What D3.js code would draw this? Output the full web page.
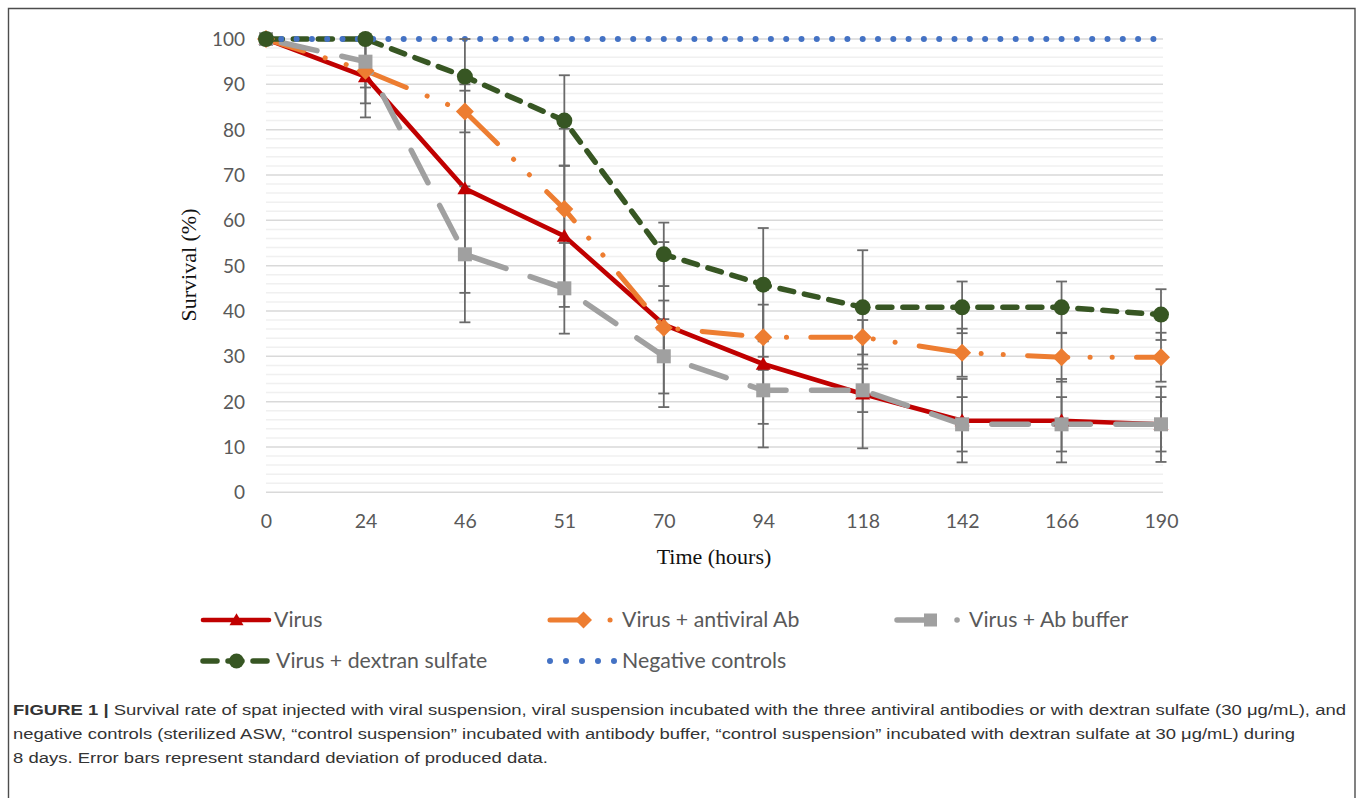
<!DOCTYPE html>
<html><head><meta charset="utf-8">
<script src="https://cdn.jsdelivr.net/npm/d3@7"></script>
<style>body{margin:0;background:#fff}svg{display:block}</style>
</head><body>
<script>
// ---------- data ----------
const hours = ["0","24","46","51","70","94","118","142","166","190"];
const yTicks = [0,10,20,30,40,50,60,70,80,90,100];
const seriesNames = ["Virus","Virus + antiviral Ab","Virus + Ab buffer","Virus + dextran sulfate","Negative controls"];
const virus      = [100,91.7,67,56.5,37,28.3,21.7,15.8,15.8,15];
const virusSd    = [0,9,23,15.6,18.2,18.4,12,9.2,9.2,8.3];
const antiviral  = [100,93,84,62.5,36.3,34.2,34.2,30.8,29.8,29.8];
const antiviralSd= [0,7.2,4.6,17.7,6,7.2,3.8,5.3,5.4,5.4];
const buffer     = [100,95,52.5,45,30,22.5,22.5,15,15,15];
const bufferSd   = [0,5.7,15,10,8.2,7.4,4.8,6,6,6];
const dextran    = [100,100,91.7,82,52.5,45.8,40.8,40.8,40.8,39.2];
const dextranSd  = [0,0,8.3,10,7,12.5,12.6,5.7,5.7,5.6];
const negative   = [100,100,100,100,100,100,100,100,100,100];
const negativeSd = [0,0,0,0,0,0,0,0,0,0];
const xTitle = "Time (hours)";
const yTitle = "Survival (%)";
const captionBold = "FIGURE 1 | ";
const captionLines = [
  "Survival rate of spat injected with viral suspension, viral suspension incubated with the three antiviral antibodies or with dextran sulfate (30 \u03bcg/mL), and",
  "negative controls (sterilized ASW, \u201ccontrol suspension\u201d incubated with antibody buffer, \u201ccontrol suspension\u201d incubated with dextran sulfate at 30 \u03bcg/mL) during",
  "8 days. Error bars represent standard deviation of produced data."
];

// ---------- styles ----------
// phase: dash pattern starts `shift` px after vertex `anchor`
const styles = [
  {values:virus, sd:virusSd, color:"#C00000", width:4.6, dash:null, cap:"round", marker:"triangle", size:15},
  {values:antiviral, sd:antiviralSd, color:"#ED7D31", width:5, dash:[40,22.5,0.1,22,0.1,24.3], anchor:4, shift:38.5, cap:"round", marker:"diamond", size:18},
  {values:buffer, sd:bufferSd, color:"#A0A0A0", width:5.5, dash:[36.5,25.5], anchor:7, shift:29.75, cap:"round", marker:"square", size:14},
  {values:dextran, sd:dextranSd, color:"#375623", width:5.5, dash:[14,11], anchor:7, shift:15.75, cap:"round", marker:"circle", size:16},
  {values:negative, sd:negativeSd, color:"#4472C4", width:6, dash:[0,15.3], anchor:0, shift:0, cap:"round", marker:null, size:0}
];

const W=1360, H=798;
const svg = d3.select("body").append("svg").attr("width",W).attr("height",H);
svg.append("rect").attr("width",W).attr("height",H).attr("fill","#fff");
svg.append("path").attr("d","M8.5,810 V8.5 H1355 V810").attr("fill","none").attr("stroke","#4d4d4d").attr("stroke-width",1.4);

const x = d3.scalePoint().domain(hours).range([266,1161]);
const y = d3.scaleLinear().domain([0,100]).range([492.3,39]);
const x0 = 266, x1 = 1163;

// gridlines
const g = svg.append("g");
g.selectAll(".minor").data(d3.range(0,101,2).filter(v=>v%10!==0)).join("line")
  .attr("x1",x0).attr("x2",x1).attr("y1",d=>y(d)).attr("y2",d=>y(d))
  .attr("stroke","#f0f0f0").attr("stroke-width",1.5);
g.selectAll(".major").data(yTicks).join("line")
  .attr("x1",x0).attr("x2",x1).attr("y1",d=>y(d)).attr("y2",d=>y(d))
  .attr("stroke","#d9d9d9").attr("stroke-width",1.5);

// axes
const yAxis = d3.axisLeft(y).tickValues(yTicks).tickSize(0).tickPadding(0);
const ya = svg.append("g").attr("transform","translate(245,0)").call(yAxis);
ya.select(".domain").remove();
ya.selectAll("text").attr("font-family","Lato, 'Open Sans', sans-serif").attr("font-size",19).attr("fill","#595959").attr("dy","0.34em");

const xAxis = d3.axisBottom(x).tickSize(0).tickPadding(0);
const xa = svg.append("g").attr("transform","translate(0,514)").call(xAxis);
xa.select(".domain").remove();
xa.selectAll("text").attr("font-family","Lato, 'Open Sans', sans-serif").attr("font-size",19.5).attr("fill","#595959").attr("dy","0.71em");

svg.append("text").attr("x",714).attr("y",564).attr("text-anchor","middle")
  .attr("font-family","'Liberation Serif', 'Times New Roman', serif").attr("font-size",22).attr("fill","#111").text(xTitle);
svg.append("text").attr("transform","translate(196,265) rotate(-90)").attr("text-anchor","middle")
  .attr("font-family","'Liberation Serif', 'Times New Roman', serif").attr("font-size",22).attr("fill","#111").text(yTitle);

function drawMarker(sel, type, size, color){
  const s = size/2;
  if(type==="circle") sel.append("circle").attr("r",s).attr("fill",color);
  else if(type==="square") sel.append("rect").attr("x",-s).attr("y",-s).attr("width",size).attr("height",size).attr("fill",color);
  else if(type==="diamond") sel.append("path").attr("d",`M0,${-s}L${s},0L0,${s}L${-s},0Z`).attr("fill",color);
  else if(type==="triangle") sel.append("path").attr("d",`M0,${-s*0.95}L${s},${s*0.75}L${-s},${s*0.75}Z`).attr("fill",color);
}

const line = d3.line().x((d,i)=>x(hours[i])).y(d=>y(d));

function dashOffset(st){
  if(!st.dash) return 0;
  const P = d3.sum(st.dash);
  let L = 0;
  for(let i=1;i<=st.anchor;i++){
    const dx = x(hours[i])-x(hours[i-1]), dy = y(st.values[i])-y(st.values[i-1]);
    L += Math.hypot(dx,dy);
  }
  const S = L + st.shift;
  return ((P - (S % P)) % P);
}

// lines
styles.forEach(st=>{
  svg.append("path").datum(st.values).attr("d",line).attr("fill","none")
    .attr("stroke",st.color).attr("stroke-width",st.width)
    .attr("stroke-dasharray",st.dash ? st.dash.join(" ") : null)
    .attr("stroke-dashoffset",dashOffset(st))
    .attr("stroke-linecap",st.cap).attr("stroke-linejoin","round");
});

// error bars
const eb = svg.append("g").attr("stroke","#6a6a6a").attr("stroke-width",1.8);
styles.forEach(st=>{
  st.values.forEach((v,i)=>{
    const sd = st.sd[i]; if(!sd) return;
    const hi = Math.min(100, v+sd), lo = Math.max(0, v-sd);
    const cx = x(hours[i]);
    eb.append("line").attr("x1",cx).attr("x2",cx).attr("y1",y(hi)).attr("y2",y(lo));
    if(v+sd<=100) eb.append("line").attr("x1",cx-5.5).attr("x2",cx+5.5).attr("y1",y(v+sd)).attr("y2",y(v+sd));
    if(v-sd>=0) eb.append("line").attr("x1",cx-5.5).attr("x2",cx+5.5).attr("y1",y(v-sd)).attr("y2",y(v-sd));
  });
});

// point markers
styles.forEach(st=>{
  if(!st.marker) return;
  st.values.forEach((v,i)=>{
    const m = svg.append("g").attr("transform",`translate(${x(hours[i])},${y(v)})`);
    drawMarker(m, st.marker, st.size, st.color);
  });
});

// legend
const legendPos = [[203,620],[550,620],[897,620],[203,661],[550,661]];
const legendDash = [null, "36 24 0.1 100", "34 26 0.1 100", "14 11", "0 16"];
styles.forEach((st,i)=>{
  const [lx,ly] = legendPos[i];
  const lg = svg.append("g").attr("transform",`translate(${lx},${ly})`);
  lg.append("line").attr("x1",0).attr("x2",66).attr("y1",0).attr("y2",0)
    .attr("stroke",st.color).attr("stroke-width",st.width)
    .attr("stroke-dasharray", legendDash[i]).attr("stroke-linecap",st.cap);
  if(st.marker){ const m = lg.append("g").attr("transform","translate(33.5,0)"); drawMarker(m, st.marker, st.size-1, st.color); }
  lg.append("text").attr("x",i===3?73:(i===0?71:72)).attr("y",0).attr("dy","0.35em")
    .attr("font-family","Lato, 'Open Sans', sans-serif").attr("font-size",21.3).attr("fill","#595959").text(seriesNames[i]);
});

// caption
const capWidths = [1333, 1282, 535];
const capY = [715, 739, 763];
captionLines.forEach((t,i)=>{
  const tx = svg.append("text").attr("x",13).attr("y",capY[i])
    .attr("font-family","'Liberation Sans', Arial, sans-serif").attr("font-size",15.5).attr("fill","#333")
    .attr("textLength",capWidths[i]).attr("lengthAdjust","spacingAndGlyphs");
  if(i===0) tx.append("tspan").attr("font-weight","bold").text(captionBold);
  tx.append("tspan").text(t);
});
</script>
</body></html>
